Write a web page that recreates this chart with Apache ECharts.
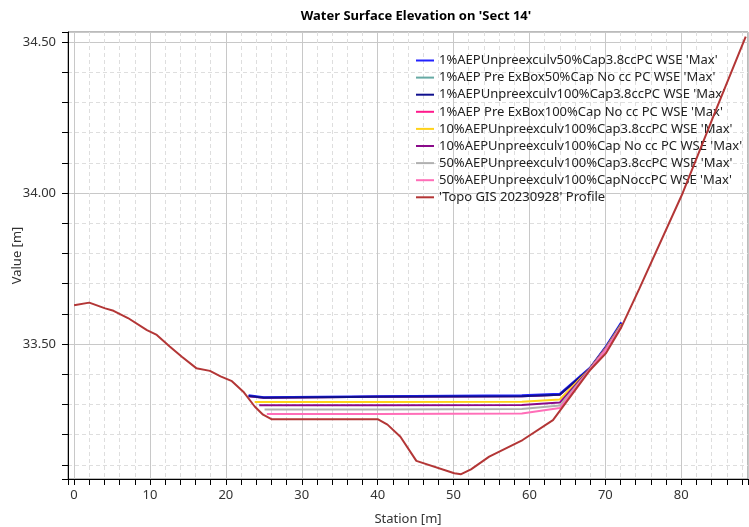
<!DOCTYPE html>
<html>
<head>
<meta charset="utf-8">
<script src="https://cdn.jsdelivr.net/npm/echarts@6/dist/echarts.min.js"></script>
<style>
html,body{margin:0;padding:0;background:#fff;}
#c{width:749px;height:527px;}
</style>
</head>
<body>
<div id="c"></div>
<script>
const titleText = "Water Surface Elevation on 'Sect 14'";
const xName = "Station [m]";
const yName = "Value [m]";

const seriesNames = [
  "1%AEPUnpreexculv50%Cap3.8ccPC WSE 'Max'",
  "1%AEP Pre ExBox50%Cap No cc PC WSE 'Max'",
  "1%AEPUnpreexculv100%Cap3.8ccPC WSE 'Max'",
  "1%AEP Pre ExBox100%Cap No cc PC WSE 'Max'",
  "10%AEPUnpreexculv100%Cap3.8ccPC WSE 'Max'",
  "10%AEPUnpreexculv100%Cap No cc PC WSE 'Max'",
  "50%AEPUnpreexculv100%Cap3.8ccPC WSE 'Max'",
  "50%AEPUnpreexculv100%CapNoccPC WSE 'Max'",
  "'Topo GIS 20230928' Profile"
];
const seriesColors = ["#2222ff","#66aaa4","#10108e","#ff1a8c","#ffd21a","#8a0a8a","#b0b0b0","#ff6eb8","#b33636"];

// [station, elevation]
const wse1Blue   = [[23.0,33.330],[25,33.324],[40,33.327],[59,33.330],[64,33.335],[68.0,33.422],[70.1,33.493],[72.1,33.572]];
const wse1Teal   = [[23.0,33.327],[25,33.322],[40,33.325],[59,33.327],[64,33.332],[68.0,33.420],[70.1,33.490],[72.1,33.568]];
const wse1Navy   = [[23.0,33.328],[25,33.322],[40,33.325],[59,33.327],[64,33.332],[68.0,33.420],[70.1,33.490],[72.1,33.568]];
const wse1Pink   = [[23.0,33.327],[25,33.322],[40,33.325],[59,33.327],[64,33.332],[68.0,33.420],[70.1,33.490],[72.1,33.568]];
const wse10Gold  = [[23.8,33.308],[40,33.308],[59,33.309],[64,33.316],[68.0,33.419],[70.1,33.488],[72.1,33.565]];
const wse10Purp  = [[24.4,33.297],[40,33.297],[59,33.298],[64,33.306],[68.0,33.418],[70.1,33.486],[72.1,33.562]];
const wse50Gray  = [[25.1,33.283],[40,33.283],[59,33.285],[64,33.296],[68.0,33.417],[70.1,33.484],[72.1,33.560]];
const wse50Pink  = [[25.4,33.268],[40,33.268],[59,33.270],[64,33.288],[68.0,33.416],[70.1,33.482],[72.1,33.558]];
const topo = [[0,33.628],[2.0,33.637],[4.1,33.618],[5.2,33.610],[7.1,33.586],[9.6,33.546],[10.9,33.530],[12.6,33.492],[14.2,33.458],[16.1,33.420],[17.9,33.411],[19.3,33.393],[20.8,33.377],[22.3,33.342],[23.8,33.293],[24.9,33.266],[26.0,33.251],[40.0,33.251],[41.3,33.233],[43.0,33.193],[45.1,33.113],[50.1,33.072],[51.0,33.069],[52.3,33.085],[54.7,33.127],[59.1,33.182],[63.1,33.248],[68.0,33.414],[70.1,33.470],[72.1,33.555],[74.5,33.684],[80.2,34.000],[84.5,34.270],[88.5,34.518]];

const seriesData = [wse1Blue,wse1Teal,wse1Navy,wse1Pink,wse10Gold,wse10Purp,wse50Gray,wse50Pink,topo];
const seriesZ = [3,1,4,1,5,6,7,8,9];

const xMin = -0.8, xMax = 88.8;
const yMin = 33.053, yMax = 34.533;

const FONT = "'Noto Sans', 'Open Sans', sans-serif";

const chart = echarts.init(document.getElementById('c'), null, {renderer:'canvas'});

const series = seriesNames.map((n,i)=>({
  name:n, type:'line', data:seriesData[i], symbol:'none', showSymbol:false,
  z: seriesZ[i],
  lineStyle:{width:2, color:seriesColors[i]}, itemStyle:{color:seriesColors[i]},
  animation:false
}));

chart.setOption({
  animation:false,
  backgroundColor:'#fff',
  title:{text:titleText, left:411, top:5, textAlign:'center',
    textStyle:{fontFamily:FONT, fontSize:13, fontWeight:'bold', color:'#000'}},
  legend:{
    orient:'vertical', left:411, top:49, itemWidth:18, itemHeight:14, itemGap:4.1,
    itemStyle:{borderWidth:0},
    textStyle:{fontFamily:FONT, fontSize:13, color:'#222'},
    data: seriesNames.map((n,i)=>({name:n, icon:'path://M0,0H18V2H0Z'}))
  },
  grid:{left:68, top:32, right:1, bottom:48, show:true, borderColor:'#777', borderWidth:1,
    containLabel:false, outerBoundsMode:'none'},
  xAxis:{
    type:'value', min:xMin, max:xMax, splitNumber:9, minInterval:10, maxInterval:10,
    name:xName, nameLocation:'middle', nameGap:34,
    nameTextStyle:{fontFamily:FONT, fontSize:13, color:'#333'},
    axisLine:{show:true, onZero:false, lineStyle:{color:'#000', width:1}},
    axisTick:{show:true, inside:false, length:6, lineStyle:{color:'#000'}},
    minorTick:{show:true, splitNumber:5, length:6, lineStyle:{color:'#000'}},
    axisLabel:{fontFamily:FONT, fontSize:13, color:'#333', margin:10,
      showMinLabel:true, showMaxLabel:true,
      formatter:v=> (Math.abs(v/10 - Math.round(v/10))<1e-6 ? String(Math.round(v)) : '')},
    splitLine:{show:true, lineStyle:{color:'#c8c8c8', width:1}},
    minorSplitLine:{show:true, lineStyle:{color:'#dedede', width:1, type:[4,3]}}
  },
  yAxis:{
    type:'value', min:yMin, max:yMax, splitNumber:3, minInterval:0.5, maxInterval:0.5,
    name:yName, nameLocation:'middle', nameGap:44, nameRotate:90, nameMoveOverlap:false,
    nameTextStyle:{fontFamily:FONT, fontSize:13, color:'#333'},
    axisLine:{show:true, onZero:false, lineStyle:{color:'#000', width:1}},
    axisTick:{show:true, inside:false, length:6, lineStyle:{color:'#000'}},
    minorTick:{show:true, splitNumber:5, length:6, lineStyle:{color:'#000'}},
    axisLabel:{fontFamily:FONT, fontSize:13, color:'#333', margin:12,
      formatter:v=> (Math.abs(v*2 - Math.round(v*2))<1e-6 ? v.toFixed(2) : '')},
    splitLine:{show:true, lineStyle:{color:'#c8c8c8', width:1}},
    minorSplitLine:{show:true, lineStyle:{color:'#dedede', width:1, type:[4,3]}}
  },
  series: series
});
</script>
</body>
</html>
